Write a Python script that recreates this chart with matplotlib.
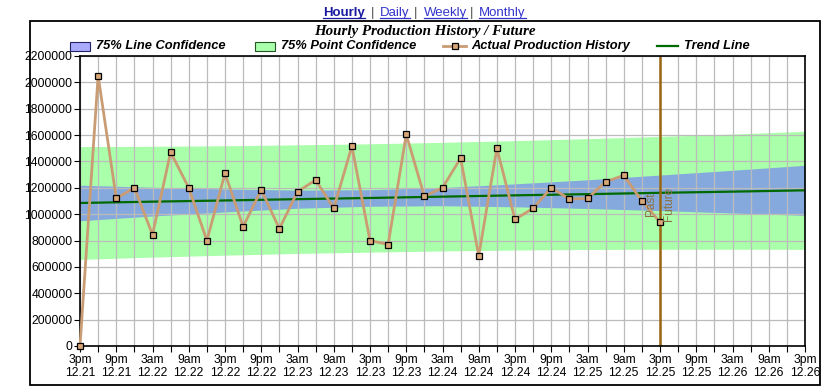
import matplotlib
matplotlib.use("Agg")
import matplotlib.pyplot as plt
from matplotlib.patches import Rectangle
from matplotlib.lines import Line2D

# ---------------- data ----------------
hist_hours = [0, 3, 6, 9, 12, 15, 18, 21, 24, 27, 30, 33, 36, 39, 42, 45, 48,
              51, 54, 57, 60, 63, 66, 69, 72, 75, 78, 81, 84, 87, 90, 93, 96]
production = [0, 2050000, 1120000, 1200000, 845000, 1470000, 1200000, 800000,
              1310000, 905000, 1185000, 890000, 1170000, 1260000, 1045000,
              1515000, 800000, 770000, 1605000, 1135000, 1200000, 1425000,
              685000, 1500000, 960000, 1045000, 1200000, 1115000, 1120000,
              1245000, 1295000, 1100000, 940000]

band_hours = [0, 12, 24, 36, 48, 60, 72, 84, 96, 108, 120]
trend = [1085000, 1095000, 1104000, 1114000, 1123000, 1133000, 1143000,
         1152000, 1162000, 1171000, 1181000]
line_conf_top = [1220000, 1204000, 1191000, 1183000, 1186000, 1202000,
                 1230000, 1261000, 1297000, 1333000, 1371000]
line_conf_bot = [950000, 986000, 1017000, 1045000, 1060000, 1064000,
                 1056000, 1043000, 1027000, 1009000, 991000]
point_conf_top = [1513000, 1515000, 1519000, 1526000, 1534000, 1545000,
                  1558000, 1573000, 1590000, 1608000, 1629000]
point_conf_bot = [657000, 674000, 689000, 702000, 712000, 721000, 728000,
                  732000, 734000, 734000, 733000]

now_hour = 96

tick_hours = list(range(0, 121, 6))
tick_times = ["3pm", "9pm", "3am", "9am"] * 5 + ["3pm"]
tick_dates = ["12.21", "12.21", "12.22", "12.22", "12.22", "12.22", "12.23",
              "12.23", "12.23", "12.23", "12.24", "12.24", "12.24", "12.24",
              "12.25", "12.25", "12.25", "12.25", "12.26", "12.26", "12.26"]
y_ticks = list(range(0, 2200001, 200000))

title = "Hourly Production History / Future"
legend_labels = ["75% Line Confidence", "75% Point Confidence",
                 "Actual Production History", "Trend Line"]

# ---------------- style ----------------
W, H = 830, 390
plt.rcParams['font.family'] = ['Liberation Sans', 'DejaVu Sans']
fig = plt.figure(figsize=(W / 100, H / 100), dpi=100)

def fx(x):
    return x / W

def fy(y):
    return 1 - y / H

green_c = '#AAFFAA'
blue_c = '#86A9DD'
lav_c = '#AAAAFF'
tan_c = '#C99C74'
marker_fc = '#D9A878'
trend_c = '#006A00'
now_c = '#996611'

ax = fig.add_axes([fx(80), fy(346), (805 - 80) / W, (346 - 56) / H])

ax.fill_between(band_hours, point_conf_bot, point_conf_top, color=green_c,
                lw=0, zorder=1)
ax.fill_between(band_hours, line_conf_bot, line_conf_top, color=blue_c,
                lw=0, zorder=1.1)
ax.plot(band_hours, trend, color=trend_c, lw=1.6, zorder=2)
ax.plot(hist_hours, production, color=tan_c, lw=2.0, zorder=3,
        marker='s', markersize=5.0, markerfacecolor=marker_fc,
        markeredgecolor='black', markeredgewidth=0.9, clip_on=False)
ax.axvline(now_hour, color=now_c, lw=1.8, zorder=2.5)
ax.text(now_hour - 0.5, 1075000, "Past", rotation=90, ha='right',
        va='center', fontsize=8.5, color='#8C7040', zorder=4)
ax.text(now_hour + 0.5, 1075000, "Future", rotation=90, ha='left',
        va='center', fontsize=8.5, color='#8C7040', zorder=4)

ax.set_xlim(0, 120)
ax.set_ylim(0, 2200000)
ax.set_xticks(tick_hours)
ax.set_xticklabels([f"{t}\n{d}" for t, d in zip(tick_times, tick_dates)],
                   fontsize=8.7, linespacing=1.1)
ax.set_xticks(range(0, 121, 3), minor=True)
ax.set_yticks(y_ticks)
ax.set_yticklabels([str(v) for v in y_ticks], fontsize=8.7)
ax.tick_params(axis='both', which='both', direction='out', length=4,
               width=0.8, color='black', pad=1.5)
ax.tick_params(axis='x', which='minor', length=4)
ax.set_axisbelow('line')
ax.grid(True, which='minor', axis='x', color='#BBBBBB', lw=0.9)
ax.grid(True, which='major', axis='y', color='#BBBBBB', lw=0.9)
ax.grid(True, which='major', axis='x', color='#BBBBBB', lw=0.9)
for s in ax.spines.values():
    s.set_color('black')
    s.set_linewidth(1.2)

# outer frame
fig.add_artist(Rectangle((fx(30), fy(385)), (820 - 30) / W, (385 - 21) / H,
                         transform=fig.transFigure, fill=False,
                         edgecolor='black', lw=1.3))

# title
fig.text(fx(425), fy(31), title, ha='center', va='center',
         family=['Liberation Serif'], fontweight='bold', fontstyle='italic',
         fontsize=10.8)

# legend (manual)
ly = 46
leg_font = dict(fontsize=9.3, fontweight='bold', fontstyle='italic',
                va='center', ha='left')
fig.add_artist(Rectangle((fx(70), fy(51)), 20 / W, 9 / H,
                         transform=fig.transFigure, facecolor=lav_c,
                         edgecolor='#222266', lw=0.8))
fig.text(fx(96), fy(ly), legend_labels[0], **leg_font)
fig.add_artist(Rectangle((fx(255), fy(51)), 20 / W, 9 / H,
                         transform=fig.transFigure, facecolor=green_c,
                         edgecolor='#225522', lw=0.8))
fig.text(fx(281), fy(ly), legend_labels[1], **leg_font)
fig.add_artist(Line2D([fx(443), fx(466)], [fy(ly), fy(ly)],
                      transform=fig.transFigure, color=tan_c, lw=2.0))
fig.add_artist(Line2D([fx(454.5)], [fy(ly)], transform=fig.transFigure,
                      marker='s', markersize=5.0, markerfacecolor=marker_fc,
                      markeredgecolor='black', markeredgewidth=0.9,
                      linestyle='none'))
fig.text(fx(471), fy(ly), legend_labels[2], **leg_font)
fig.add_artist(Line2D([fx(657), fx(678)], [fy(ly), fy(ly)],
                      transform=fig.transFigure, color=trend_c, lw=1.6))
fig.text(fx(684), fy(ly), legend_labels[3], **leg_font)

# top navigation links
nav = [("Hourly", 323, '#1A1AA0', 'bold', True),
       ("|", 371, '#555555', 'normal', False),
       ("Daily", 380, '#3333CC', 'normal', True),
       ("|", 414, '#555555', 'normal', False),
       ("Weekly", 424, '#3333CC', 'normal', True),
       ("|", 470, '#555555', 'normal', False),
       ("Monthly", 479, '#3333CC', 'normal', True)]
nav_texts = []
for word, x, c, wgt, ul in nav:
    t = fig.text(fx(x), fy(13), word, ha='left', va='center', fontsize=9.5,
                 color=c, fontweight=wgt)
    nav_texts.append((t, c, ul))

fig.canvas.draw()
r = fig.canvas.get_renderer()
for t, c, ul in nav_texts:
    if not ul:
        continue
    bb = t.get_window_extent(r)
    yline = bb.y0 + 1.5
    fig.add_artist(Line2D([bb.x0 / W, bb.x1 / W], [yline / H, yline / H],
                          transform=fig.transFigure, color=c, lw=0.9))

fig.savefig("out.png", dpi=100)
